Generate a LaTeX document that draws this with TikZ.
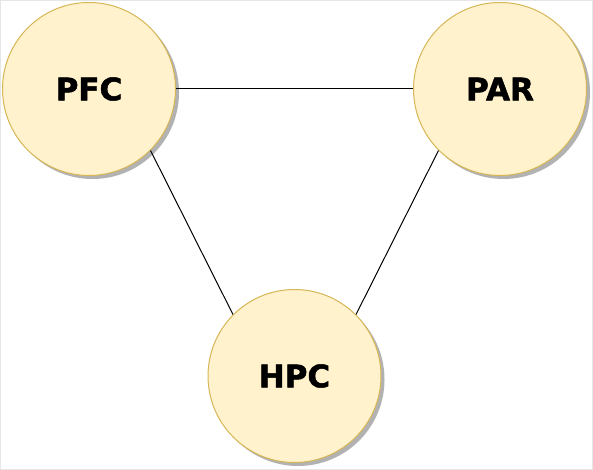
\documentclass[tikz,border=0pt]{standalone}
\usepackage{fontspec}
\setmainfont{DejaVu Sans}
\newfontfamily\labelfont[FakeBold=1.6]{DejaVu Sans Bold}
\usetikzlibrary{shadows}
\definecolor{nodefill}{HTML}{FFF2CC}
\definecolor{nodedraw}{HTML}{D6B656}
\definecolor{frame}{HTML}{E6E6E6}
\tikzset{
  region/.style={circle, minimum size=173pt, inner sep=0pt, fill=nodefill, draw=nodedraw, line width=1pt,
    drop shadow={shadow xshift=3.5pt, shadow yshift=-3.5pt, fill=black!30, opacity=1},
    font=\labelfont\fontsize{31}{36}\selectfont},
  link/.style={draw=black, line width=1pt}
}
\begin{document}
\begin{tikzpicture}[x=1pt,y=-1pt]
\useasboundingbox (0,0) rectangle (593,470);
\draw[frame, line width=1pt] (0.5,0.5) rectangle (592.5,469.5);
\node[region] (pfc) at (89,89) {PFC};
\node[region] (par) at (500,89) {PAR};
\node[region] (hpc) at (294.5,376) {HPC};
\draw[link] (pfc.east) -- (par.west);
\draw[link] (pfc.-45) -- (hpc.135);
\draw[link] (par.-135) -- (hpc.45);
\end{tikzpicture}
\end{document}
